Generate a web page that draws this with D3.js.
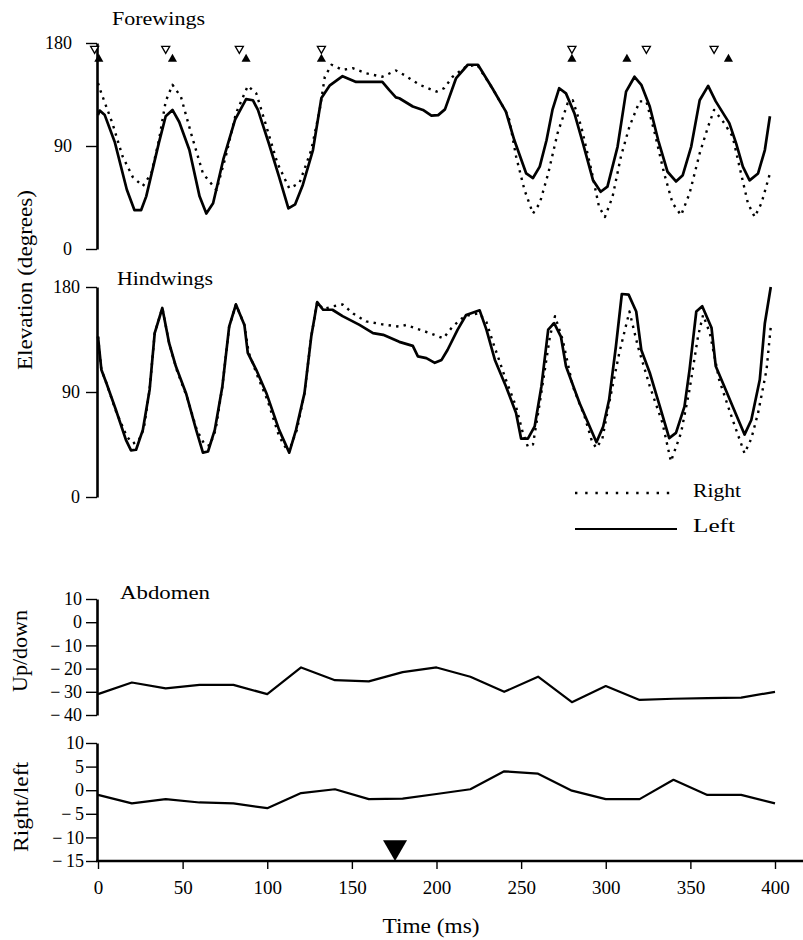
<!DOCTYPE html>
<html><head><meta charset="utf-8">
<script src="https://cdn.jsdelivr.net/npm/d3@7"></script>
<style>
body{margin:0;background:#fff}
svg{display:block}
text{font-family:"Liberation Serif","Times New Roman",serif;fill:#000}
</style>
</head><body>
<svg id="c" width="803" height="940"></svg>
<script>
// ---------- DATA (time in ms, value) ----------
const foreLeft = [[0,117],[1,121],[4,117],[10,93],[17,52],[21.5,34],[25.5,34],[28.5,46],[36,93],[40,116],[44,121.5],[48,111],[54,86.5],[60,46],[64,31],[68,40],[74,78],[81,113],[87.5,131],[91.5,130],[94.5,121.5],[101,92],[107,63],[112.5,35.5],[116.5,39],[121,56],[127,86.5],[132,132],[137,143],[144.5,151],[152.5,146],[168,146],[172,139],[176,132.5],[178,131.7],[186,124.5],[192,121.5],[197,116.5],[201,117],[205,122],[211.5,149],[218.5,161],[224.5,161],[233,140.5],[241,120],[246,95],[253,66],[257,62],[261,72],[265,95],[268.5,121.5],[272.5,140.5],[276.5,136],[281.5,118.5],[286.5,92.5],[292.5,60],[297,50],[301,54.5],[307,89.5],[312,137.5],[317,150.5],[321,143.5],[326,124.5],[331,95],[336.5,67.5],[341.5,59],[345.5,64.5],[350.5,89.5],[355.5,130],[360.5,142.5],[365,129],[373,110],[377,92.5],[381,72],[385,60],[390,66],[394,86.5],[397,116]];
const foreRight = [[0,145],[2,136],[8.5,110],[14.5,81],[20.5,63],[26.5,55],[31.5,66],[36,95],[40,129],[44,143.5],[49,133],[55,101],[62,66],[70,51.5],[75.5,81],[81.5,118.5],[88.5,142.5],[93.5,136],[99.5,107],[106,75],[113,53],[119,57.5],[126,86.5],[131,121.5],[134,150.5],[138,161],[144.5,156.5],[150.5,158],[158.5,153.5],[168,150.5],[176,156],[181,152],[190,143.5],[200,137.5],[204.5,140.5],[209.5,150.5],[217.5,159.5],[224,161],[233,140.5],[241,120],[243,113],[247,81],[252,51.5],[257,31],[261,40],[266,66],[271.5,101],[277.5,127.5],[280.5,130],[285.5,107],[291.5,69],[296,37],[299.5,28],[304,45.5],[309,81],[314,107],[320,129],[324,129],[329,101],[334.5,66],[339.5,40],[344.5,29.5],[349.5,48.5],[355.5,83.5],[360.5,107],[364,121.5],[370,110],[375,98],[379,72],[384,40],[388,28],[392,40],[397,66]];
const hindLeft = [[0,137.5],[2,109],[5,97.5],[10.5,75],[16.5,49],[19.5,40],[22.5,40.5],[26.5,57.5],[30.5,92],[33.5,140.5],[38,162],[42,132],[46,112],[52,89],[58,57.5],[62,38],[65,39],[69,57.5],[73.5,95],[77.5,146],[81.5,165],[86.5,147.5],[88.5,123.5],[93.5,109],[99.5,89],[107,57.5],[113,38],[117,57.5],[122,89],[126,137.5],[129.5,167],[133,160.5],[138.5,160.5],[144.5,155],[154.5,147.5],[162.5,140.5],[168.5,139],[178,133],[186,129.5],[189,120.5],[194,119],[199,115],[203,117.5],[206.5,126],[212.5,143.5],[217.5,156],[225.5,160],[229.5,143.5],[234.5,117.5],[241,95],[247,72],[250,50],[254,50],[258,60.5],[262,95],[266,143.5],[269.5,149],[273.5,137.5],[276.5,112],[284.5,80.5],[294.5,47],[298.5,60.5],[302,83.5],[306,129],[309.5,174],[313.5,173.5],[318,159],[321,126],[326,106.5],[332,77.5],[337.5,50.5],[341.5,55],[346.5,77.5],[349.5,109],[353.5,159],[357,163.5],[362.5,145],[365,112],[370,95],[375,77.5],[382,53.5],[386,66],[391,100.5],[394,149],[397.5,180]];
const hindRight = [[0,137.5],[2,109],[5,97.5],[10.5,74],[17,52],[20.5,46],[23.5,47],[27,58],[30.5,92],[33.5,140.5],[38,162],[42,132],[46.5,109],[52.5,86],[58.5,57],[63,45],[66,44],[69.5,57.5],[73.5,95],[77.5,146],[81.5,165],[86.5,147.5],[89,124],[94,104.5],[100,83.5],[107,52],[111,42],[114,44],[117.5,57.5],[122,89],[126,137.5],[129.5,167],[133,161],[139,163.5],[144.5,165],[151,157],[158.5,150.5],[168,148],[178,146],[182,147.5],[190,143.5],[197,140],[204,136],[209.5,146],[216.5,155],[225,157.5],[229.5,150],[233.5,132],[241,100.5],[247,77.5],[251,55],[254,43],[257,45],[261,80.5],[267,137.5],[270,155],[274.5,135],[280.5,95],[287.5,69],[292,47],[294.5,42],[298,50],[302,80.5],[308,123.5],[314,159],[319,129],[326,95],[333.5,63.5],[338.5,30.5],[344.5,55],[349.5,92],[354.5,137.5],[357.5,156],[361.5,140.5],[367,100.5],[375,66],[382,37.5],[386,50],[390,72],[395,109],[397.5,146]];

const abdTimes = [0,20,40,60,80,100,120,140,160,180,200,220,240,260,280,300,320,340,360,380,400];
const upDown   = [-31,-26,-28.5,-27,-27,-31,-19.5,-25,-25.5,-21.5,-19.5,-23.5,-30,-23.5,-34.5,-27.5,-33.5,-33,-32.7,-32.5,-30];
const rightLeft= [-1,-2.8,-1.9,-2.6,-2.8,-3.8,-0.6,0.2,-1.9,-1.8,-0.8,0.2,4,3.5,-0.1,-1.9,-1.9,2.2,-1,-1,-2.8];

const openMarks   = [-2,40,83.5,132,280,324,364];
const filledMarks = [0.5,44,87.5,132,280,312.5,372.5];
const stimulusTime = 175.5;

const elevTicks = [0,90,180];
const udTicks = [-40,-30,-20,-10,0,10];
const rlTicks = [-15,-10,-5,0,5,10];
const timeTicks = [0,50,100,150,200,250,300,350,400];

// ---------- CHART ----------
const svg = d3.select("#c");
svg.append("rect").attr("width",803).attr("height",940).attr("fill","#fff");

const x = d3.scaleLinear().domain([0,400]).range([98,775]);
const foreY = d3.scaleLinear().domain([0,180]).range([249,43]);
const hindY = d3.scaleLinear().domain([0,180]).range([497,287]);
const udY = d3.scaleLinear().domain([-40,10]).range([715,599]);
const rlY = d3.scaleLinear().domain([-15,10]).range([861,743]);

const fmt = v => v < 0 ? "\u2212\u2009" + Math.abs(v) : String(v);

const AX = 97;
function leftAxis(scale, ticks, pad){
  const g = svg.append("g").attr("transform",`translate(${AX},0)`)
    .call(d3.axisLeft(scale).tickValues(ticks).tickFormat(fmt).tickSizeInner(11).tickSizeOuter(0).tickPadding(pad));
  g.select(".domain").attr("stroke","#000").attr("stroke-width",2.6);
  g.selectAll(".tick line").attr("stroke","#000").attr("stroke-width",1.4);
  g.selectAll(".tick text").style("font-family",'"Liberation Serif",serif').style("font-size","18px").attr("fill","#000");
  return g;
}
leftAxis(foreY, elevTicks, 14);
leftAxis(hindY, elevTicks, 6);
leftAxis(udY, udTicks, 4);
leftAxis(rlY, rlTicks, 2);

// bottom axis
const bx = svg.append("g").attr("transform",`translate(0,${rlY(-15)})`)
  .call(d3.axisBottom(x).tickValues(timeTicks).tickSizeInner(8).tickSizeOuter(0).tickPadding(12));
bx.select(".domain").remove();
bx.selectAll(".tick line").attr("stroke","#000").attr("stroke-width",1.4);
bx.selectAll(".tick text").style("font-family",'"Liberation Serif",serif').style("font-size","19px").attr("fill","#000");
svg.append("line").attr("x1",AX-1).attr("x2",803).attr("y1",rlY(-15)).attr("y2",rlY(-15))
  .attr("stroke","#000").attr("stroke-width",2.6);

// lines
function drawLine(data, yScale, dotted, w){
  const line = d3.line().x(d=>x(d[0])).y(d=>yScale(d[1]));
  const p = svg.append("path").datum(data).attr("d",line).attr("fill","none")
    .attr("stroke","#000").attr("stroke-width",w).attr("stroke-linejoin","round");
  if(dotted) p.attr("stroke-dasharray","2.4 5.2");
  return p;
}
drawLine(foreRight, foreY, true, 2.4);
drawLine(foreLeft, foreY, false, 2.7);
drawLine(hindRight, hindY, true, 2.4);
drawLine(hindLeft, hindY, false, 2.7);
drawLine(abdTimes.map((t,i)=>[t,upDown[i]]), udY, false, 2.2);
drawLine(abdTimes.map((t,i)=>[t,rightLeft[i]]), rlY, false, 2.2);

// markers
const triOpen = d3.symbol().type(d3.symbolTriangle).size(28);
const triFill = d3.symbol().type(d3.symbolTriangle).size(36);
svg.selectAll(".om").data(openMarks).enter().append("path")
  .attr("d",triOpen).attr("transform",d=>`translate(${x(d)},${foreY(175)}) rotate(180)`)
  .attr("fill","#fff").attr("stroke","#000").attr("stroke-width",1.3);
svg.selectAll(".fm").data(filledMarks).enter().append("path")
  .attr("d",triFill).attr("transform",d=>`translate(${x(d)},${foreY(166)})`)
  .attr("fill","#000");
const bigSide = 24, bigH = bigSide*Math.sqrt(3)/2;
svg.append("path").attr("d",d3.symbol().type(d3.symbolTriangle).size(Math.sqrt(3)/4*bigSide*bigSide))
  .attr("transform",`translate(${x(stimulusTime)},${rlY(-15)-bigH*2/3}) rotate(180)`).attr("fill","#000");

// titles
function label(txt, xx, yy, size, len, opts={}){
  const t = svg.append("text").attr("x",xx).attr("y",yy).style("font-size",size+"px").text(txt);
  if(len) t.attr("textLength",len).attr("lengthAdjust","spacingAndGlyphs");
  if(opts.anchor) t.attr("text-anchor",opts.anchor);
  if(opts.rot) t.attr("transform",`rotate(-90,${xx},${yy})`);
  return t;
}
label("Forewings",112,25,19,93);
label("Hindwings",117,285,19,96);
label("Abdomen",120,599,19,90);
label("Elevation (degrees)",32,280,20,180,{anchor:"middle",rot:true});
label("Up/down",27,651,20,82,{anchor:"middle",rot:true});
label("Right/left",28,807,20,90,{anchor:"middle",rot:true});
label("Time (ms)",431,933,20,97,{anchor:"middle"});

// legend
svg.append("line").attr("x1",575).attr("x2",677).attr("y1",493).attr("y2",493)
  .attr("stroke","#000").attr("stroke-width",2.4).attr("stroke-dasharray","2.4 7.8");
svg.append("line").attr("x1",575).attr("x2",677).attr("y1",529).attr("y2",529)
  .attr("stroke","#000").attr("stroke-width",2.2);
label("Right",693,497,19,48);
label("Left",693,532,19,42);
</script>
</body></html>
